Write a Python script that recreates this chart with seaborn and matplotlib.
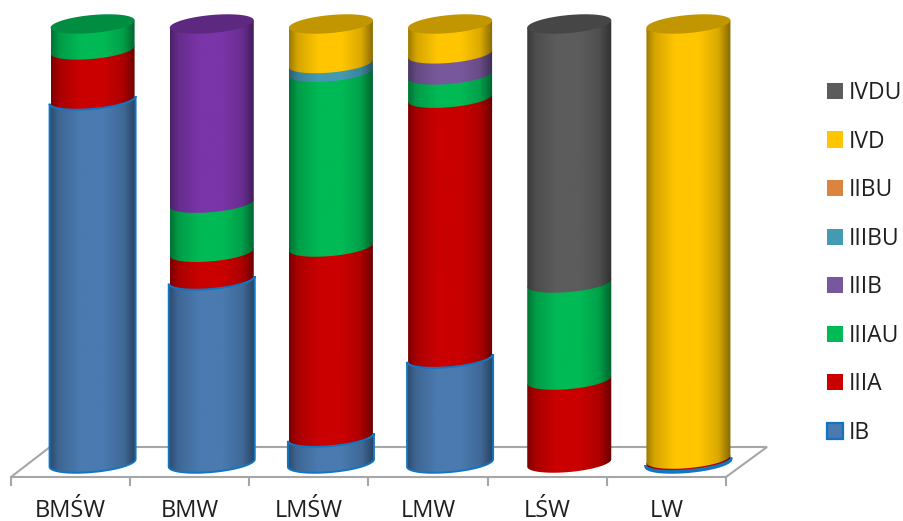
import numpy as np
import matplotlib
matplotlib.use("Agg")
import matplotlib.pyplot as plt
import seaborn as sns
from matplotlib.colors import to_rgb
from matplotlib.patches import PathPatch, Patch, Polygon
from matplotlib.path import Path

# Values (percent of each column)
categories = ["BMŚW", "BMW", "LMŚW", "LMW", "LŚW", "LW"]
ib = [82.7, 41.7, 5.9, 23.9, 0, 0.4]
iiia = [11.4, 6.3, 43.3, 59.2, 18.9, 0.5]
iiiau = [5.9, 11.2, 39.8, 5.3, 22.1, 0]
iiib = [0, 40.8, 0, 4.8, 0, 0]
iiibu = [0, 0, 2.0, 0, 0, 0]
iibu = [0, 0, 0, 0, 0, 0]
ivd = [0, 0, 9.0, 6.8, 0, 99.1]
ivdu = [0, 0, 0, 0, 59.0, 0]

series_names = ["IB", "IIIA", "IIIAU", "IIIB", "IIIBU", "IIBU", "IVD", "IVDU"]
series_values = [ib, iiia, iiiau, iiib, iiibu, iibu, ivd, ivdu]
series_colors = ["#4A7AB0", "#CA0000", "#00BA55", "#78589C",
                 "#4499B3", "#DB843D", "#FFC600", "#5C5C5C"]
ib_edge = "#1275C2"
bmw_purple = "#7A35A8"  # the BMW column is a stronger purple than the legend

W, H = 904, 521
sns.set_theme(style="white")
plt.rcParams["font.family"] = ["Open Sans", "DejaVu Sans"]

fig = plt.figure(figsize=(W / 100, H / 100), dpi=100)


def box(left, top, right, bottom):
    return [left / W, 1 - bottom / H, (right - left) / W, (bottom - top) / H]


# floor and category axis sit in front of the columns
floor = fig.add_axes(box(11, 300, 726, 477))
floor.patch.set_visible(False)
floor.set_xlim(-0.5, 5.5)
floor.set_ylim(0, 1)
floor.set_yticks([])
floor.set_xticks(range(6))
floor.set_xticklabels(categories, fontsize=17, color="#1F1F1F")
floor.set_xticks(np.arange(-0.5, 6), minor=True)
floor.tick_params(axis="x", which="major", length=0, pad=15.5)
floor.tick_params(axis="x", which="minor", length=6.5, width=1.5, color="#A6A6A6", bottom=True)
sns.despine(ax=floor, left=True, top=True, right=True)
floor.spines["bottom"].set_color("#A6A6A6")
floor.spines["bottom"].set_linewidth(1.5)

pts = [(11, 477), (50, 447), (767, 447), (726, 477)]
fig.add_artist(Polygon([(x / W, 1 - y / H) for x, y in pts], closed=False, fill=False,
                       edgecolor="#A6A6A6", linewidth=1.5, transform=fig.transFigure, zorder=-1))

# five extra units above and below so the ellipses are not cut by the axes box
px_y = 439 / 100
ax = fig.add_axes(box(33, 24 - 5 * px_y, 748, 463 + 5 * px_y))
ax.patch.set_visible(False)

# stacked bars through seaborn; their rectangles give the geometry of the cylinders
bars = {}
bottom = np.zeros(len(categories))
for name, values, color in zip(series_names, series_values, series_colors):
    n = len(ax.patches)
    sns.barplot(x=categories, y=values, order=categories, color=color, width=0.705,
                bottom=bottom, saturation=1, ax=ax)
    bars[name] = list(ax.patches[n:])
    bottom = bottom + np.array(values)

ax.set_xlim(-0.5, 5.5)
ax.set_ylim(-5, 105)
ax.axis("off")

px_x = 715 / 6
shear = 0.088     # ellipses lean up to the right
minor = 9 / px_y  # half height of an ellipse
ts = np.linspace(np.pi, 0, 60)  # left to right along the front


def front_arc(x0, half, y):
    xs = x0 + half * np.cos(ts)
    ys = y + (half * np.cos(ts)) * px_x * shear / px_y - minor * np.sin(ts)
    return np.column_stack([xs, ys])


def side_point(half, y, side):
    return y + side * half * px_x * shear / px_y


def cylinder_path(x0, half, y0, y1, front_top=False):
    low = front_arc(x0, half, y0)
    if front_top:
        up = front_arc(x0, half, y1)[::-1]
    else:
        up = np.array([[x0 + half, side_point(half, y1, 1)],
                       [x0 - half, side_point(half, y1, -1)]])
    return Path(np.vstack([low, up, low[:1]]), closed=True)


# dark at both sides, brightest a little left of the middle
shade_pos = [0, 0.1, 0.35, 0.62, 0.85, 1]
shade_val = [0.62, 0.84, 1.0, 1.0, 0.86, 0.52]
shade = np.interp(np.linspace(0, 1, 128), shade_pos, shade_val)


def fill_gradient(path, color, x0, half, y0, y1, zorder):
    rgb = np.array(to_rgb(color))
    img = shade[None, :, None] * rgb[None, None, :]
    im = ax.imshow(img, extent=[x0 - half, x0 + half, y0 - 5, y1 + 5], aspect="auto",
                   interpolation="bilinear", zorder=zorder)
    im.set_clip_path(PathPatch(path, transform=ax.transData))


for name, color in zip(series_names, series_colors):
    for i, bar in enumerate(bars[name]):
        bar.set_visible(False)
        h = bar.get_height()
        if h <= 0:
            continue
        if name == "IIIB" and categories[i] == "BMW":
            color_i = bmw_purple
        else:
            color_i = color
        x0 = bar.get_x() + bar.get_width() / 2
        half = bar.get_width() / 2
        y0 = bar.get_y()
        y1 = y0 + h
        if name == "IB":
            # the blue part is a bit wider and has an outline over its neighbour
            half = half + 1 / px_x
            path = cylinder_path(x0, half, y0, y1, front_top=True)
            fill_gradient(path, color_i, x0, half, y0 - minor, y1 + minor, 6)
            ax.add_patch(PathPatch(path, facecolor="none", edgecolor=ib_edge, linewidth=1.4,
                                   zorder=7, clip_on=False))
        else:
            path = cylinder_path(x0, half, y0, y1)
            fill_gradient(path, color_i, x0, half, y0 - minor, y1 + minor, 3)
        if abs(y1 - 100) < 0.01:
            arc = front_arc(x0, half, y1)
            back = arc[::-1].copy()
            back[:, 1] = 2 * (y1 + (back[:, 0] - x0) * px_x * shear / px_y) - back[:, 1]
            cap = Path(np.vstack([arc, back, arc[:1]]), closed=True)
            ax.add_patch(PathPatch(cap, facecolor=np.array(to_rgb(color_i)) * 0.76, edgecolor="none",
                                   zorder=5, clip_on=False))

ax.set_xlim(-0.5, 5.5)
ax.set_ylim(-5, 105)

# legend, top entry first
handles = []
for name, color in zip(series_names, series_colors):
    edge = ib_edge if name == "IB" else color
    handles.append(Patch(facecolor=color, edgecolor=edge, linewidth=1.6 if name == "IB" else 0, label=name))
fig.legend(handles[::-1], series_names[::-1], loc="upper left", bbox_to_anchor=(827 / W, 1 - 81 / H),
           frameon=False, fontsize=16.5, handlelength=0.7, handleheight=0.7, handletextpad=0.25,
           labelspacing=1.07, borderpad=0, borderaxespad=0, labelcolor="#1F1F1F")

fig.savefig("out.png", dpi=100)
